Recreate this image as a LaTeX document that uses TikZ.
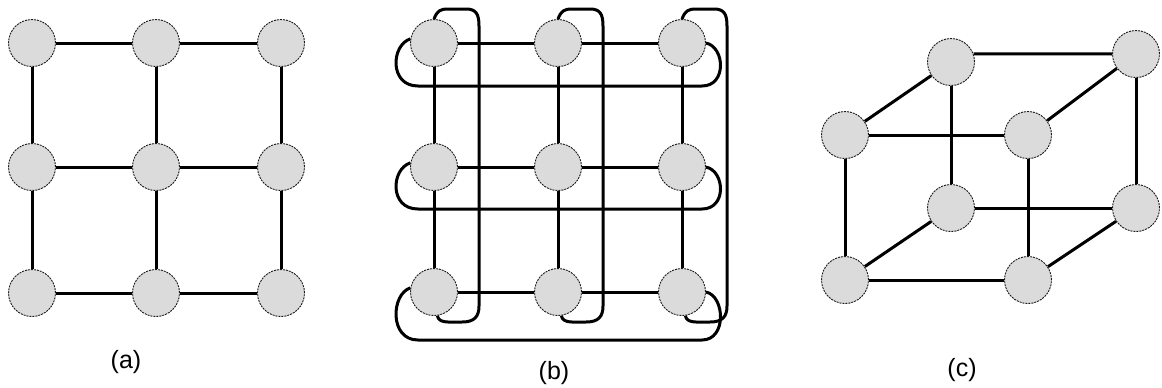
\documentclass[tikz,border=0pt]{standalone}
\usepackage{fontspec}
\setmainfont{Liberation Sans}
\usetikzlibrary{backgrounds}
\tikzset{
  pe/.style={circle, minimum size=47pt, inner sep=0pt, fill=black!14, draw=black!90,
    line width=0.9pt, dash pattern=on 2pt off 1pt},
  link/.style={line width=3pt, draw=black},
  wrap/.style={line width=3pt, draw=black, line join=round},
  caption/.style={font=\fontsize{25}{30}\selectfont, inner sep=0pt}
}
\begin{document}
\begin{tikzpicture}[x=1pt,y=-1pt]
\useasboundingbox (0,0) rectangle (1162,388);
% ---------- (a) mesh ----------
\foreach \c/\x in {1/32,2/156,3/281}
  \foreach \r/\y in {1/43,2/167,3/293}
    \node[pe] (a\r\c) at (\x,\y) {};
\begin{scope}[on background layer]
\foreach \r in {1,2,3} {
  \draw[link] (a\r1) -- (a\r2);
  \draw[link] (a\r2) -- (a\r3);
  \draw[link] (a1\r) -- (a2\r);
  \draw[link] (a2\r) -- (a3\r);
}
\end{scope}
\node[caption] (capa) at (126,362) {(a)};
% ---------- (b) torus ----------
\foreach \c/\x in {1/434,2/558,3/682}
  \foreach \r/\y in {1/43,2/167,3/292}
    \node[pe] (b\r\c) at (\x,\y) {};
\begin{scope}[on background layer]
\foreach \r in {1,2,3} {
  \draw[link] (b\r1) -- (b\r2);
  \draw[link] (b\r2) -- (b\r3);
  \draw[link] (b1\r) -- (b2\r);
  \draw[link] (b2\r) -- (b3\r);
}
% row wrap-arounds
\foreach \r/\y/\h in {1/43/86,2/167/209,3/292/340} {
  \draw[wrap] (b\r1.170) .. controls (391,{\y+2}) and (389,\h) .. (418,\h)
     -- (702,\h) .. controls (727,\h) and (725,{\y+4}) .. (b\r3.east);
}
% column wrap-arounds
\foreach \c/\x in {1/434,2/558,3/682} {
  \draw[wrap] (b1\c.north) .. controls ({\x+3},11) and ({\x+6},9) .. ({\x+14},9)
     -- ({\x+32},9) .. controls ({\x+42},9) and ({\x+45},14) .. ({\x+45},26)
     -- ({\x+45},306) .. controls ({\x+45},317) and ({\x+40},322) .. ({\x+28},322)
     -- ({\x+14},322) .. controls ({\x+8},322) and ({\x+4},320) .. (b3\c.-82);
}
\end{scope}
\node[caption] (capb) at (554,373) {(b)};
% ---------- (c) hypercube ----------
\node[pe] (cf1) at (845,135) {};
\node[pe] (cf2) at (845,280) {};
\node[pe] (cf3) at (1028,135) {};
\node[pe] (cf4) at (1028,280) {};
\node[pe] (cb1) at (951,62) {};
\node[pe] (cb2) at (951,208) {};
\node[pe] (cb3) at (1136,54) {};
\node[pe] (cb4) at (1136,208) {};
\begin{scope}[on background layer]
\draw[link] (cf1) -- (cf3);
\draw[link] (cf2) -- (cf4);
\draw[link] (cf1) -- (cf2);
\draw[link] (cf3) -- (cf4);
\draw[link] (cf1) -- (cb1);
\draw[link] (cf3) -- (cb3);
\draw[link] (cf2) -- (cb2);
\draw[link] (cf4) -- (cb4);
\draw[link] (cb1.20) -- (cb3.west);
\draw[link] (cb1) -- (cb2);
\draw[link] (cb3) -- (cb4);
\draw[link] (cb2) -- (cb4);
\end{scope}
\node[caption] (capc) at (962,370) {(c)};
\end{tikzpicture}
\end{document}
